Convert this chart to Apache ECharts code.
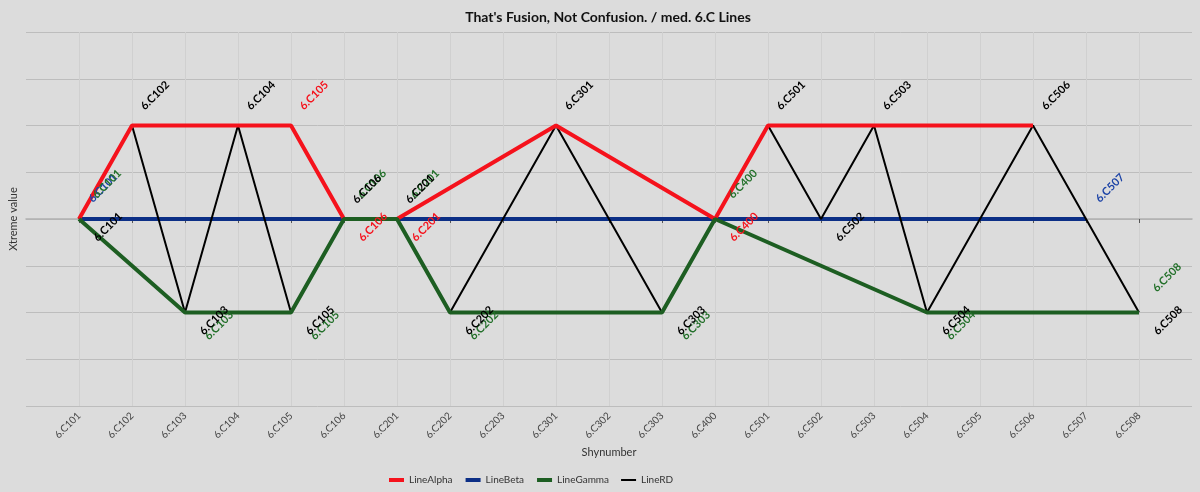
<!DOCTYPE html>
<html>
<head>
<meta charset="utf-8">
<script src="https://cdn.jsdelivr.net/npm/echarts@6/dist/echarts.min.js"></script>
<style>
  html, body { margin: 0; padding: 0; background: #dcdcdc; }
  #chart { width: 1200px; height: 492px; }
</style>
</head>
<body>
<div id="chart"></div>
<script>
// ---- data ----
const categories = ['6.C101','6.C102','6.C103','6.C104','6.C105','6.C106','6.C201','6.C202','6.C203','6.C301','6.C302','6.C303','6.C400','6.C501','6.C502','6.C503','6.C504','6.C505','6.C506','6.C507','6.C508'];
const lineAlpha = [0, 2, null, 2, 2, 0, 0, null, null, 2, null, null, 0, 2, null, 2, null, null, 2, null, null];
const lineBeta  = [0, null, null, null, null, null, null, null, null, null, null, null, null, null, null, null, null, null, null, 0, null];
const lineGamma = [0, null, -2, null, -2, 0, 0, -2, null, null, null, -2, 0, null, null, null, -2, null, null, null, -2];
const lineRD    = [0, 2, -2, 2, -2, 0, 0, -2, null, 2, null, -2, null, 2, 0, 2, -2, null, 2, null, -2];
const seriesNames = ['LineAlpha', 'LineBeta', 'LineGamma', 'LineRD'];

// ---- build ----
const FONT = 'Lato';
const axisData = [''].concat(categories, ['']);
const pad = arr => [null].concat(arr, [null]);
const lastIdx = axisData.length - 1;
const inner = (i) => i > 0 && i < lastIdx;

function sideOf(arr, i) {
  const v = arr[i];
  const nb = [];
  for (let j = i - 1; j >= 0; j--) if (arr[j] != null) { nb.push(arr[j]); break; }
  for (let j = i + 1; j < arr.length; j++) if (arr[j] != null) { nb.push(arr[j]); break; }
  return nb.every(n => n <= v) ? 0 : 1;
}
function labelPoints(arr, coverArr) {
  const pts = [];
  arr.forEach((v, i) => {
    if (v == null) return;
    const side = sideOf(arr, i);
    // a label sitting exactly under an identical label of a covering series is not drawn
    if (coverArr && coverArr[i] === v && sideOf(coverArr, i) === side) return;
    pts.push([i + 1, v, side]);
  });
  return pts;
}

const styles = {
  LineAlpha: { color: '#f5121c', width: 4, z: 4, lz: 8, top: [23, -30], bottom: [29, 8] },
  LineBeta:  { color: '#0c2f86', width: 4, z: 2, lz: 6, top: [24, -31], bottom: [29, 8] },
  LineGamma: { color: '#1d5e22', width: 4, z: 5, lz: 7, top: [28, -35], bottom: [34, 13] },
  LineRD:    { color: '#000000', width: 2, z: 3, lz: 9, top: [23, -30], bottom: [29, 8] }
};
const labelColors = { LineAlpha: '#f5121c', LineBeta: '#1c43a6', LineGamma: '#23702a', LineRD: '#000000' };
const values = { LineAlpha: lineAlpha, LineBeta: lineBeta, LineGamma: lineGamma, LineRD: lineRD };
const coveredBy = { LineAlpha: lineRD };

const series = [];
seriesNames.forEach(name => {
  const st = styles[name];
  series.push({
    name: name, type: 'line', data: pad(values[name]), connectNulls: true,
    symbol: 'none', z: st.z,
    lineStyle: { color: st.color, width: st.width },
    itemStyle: { color: st.color }
  });
});
seriesNames.forEach(name => {
  const st = styles[name];
  series.push({
    name: name + ' labels', type: 'custom', z: st.lz, silent: true,
    encode: { x: 0, y: 1 },
    data: labelPoints(values[name], coveredBy[name]),
    renderItem: function (params, api) {
      const p = api.coord([api.value(0), api.value(1)]);
      const off = api.value(2) ? st.bottom : st.top;
      return {
        type: 'text', x: p[0] + off[0], y: p[1] + off[1], rotation: Math.PI / 4,
        style: {
          text: axisData[api.value(0)], fill: labelColors[name],
          font: 'bold 11px ' + FONT, align: 'center', verticalAlign: 'middle'
        }
      };
    }
  });
});

const chart = echarts.init(document.getElementById('chart'));
chart.setOption({
  backgroundColor: '#dcdcdc',
  animation: false,
  title: {
    text: "That's Fusion, Not Confusion. / med. 6.C Lines",
    left: 603, textAlign: 'center', top: 5,
    textStyle: { fontFamily: FONT, fontSize: 14, fontWeight: 'bold', color: '#111' }
  },
  legend: {
    data: seriesNames.map(n => ({ name: n, lineStyle: { width: n === 'LineRD' ? 2 : 4 } })),
    left: 382, top: 470, itemWidth: 15, itemHeight: 10, itemGap: 11,
    itemStyle: { opacity: 0 },
    textStyle: { fontFamily: FONT, fontSize: 10, color: '#333' }
  },
  grid: { left: 24, right: 8, top: 32, bottom: 86, containLabel: false },
  xAxis: {
    type: 'category', data: axisData, boundaryGap: false,
    name: 'Shynumber', nameLocation: 'middle', nameGap: 40,
    nameTextStyle: { fontFamily: FONT, fontSize: 11, color: '#333' },
    axisLine: { lineStyle: { color: '#b0b0b0', width: 1.5 } },
    axisTick: { show: true, interval: (i) => inner(i), length: 4, lineStyle: { color: '#555' } },
    axisLabel: { interval: 0, rotate: 45, fontFamily: FONT, fontSize: 10, color: '#444', margin: 8 },
    splitLine: { show: true, interval: (i) => inner(i), lineStyle: { color: '#d0d0d0', width: 1 } }
  },
  yAxis: {
    type: 'value', min: -4, max: 4, interval: 1,
    name: 'Xtreme value', nameLocation: 'middle', nameGap: 7,
    nameTextStyle: { fontFamily: FONT, fontSize: 11, color: '#333' },
    axisLabel: { show: false }, axisTick: { show: false }, axisLine: { show: false },
    splitLine: { lineStyle: { color: '#bdbdbd', width: 1 } }
  },
  series: series
});
</script>
</body>
</html>
